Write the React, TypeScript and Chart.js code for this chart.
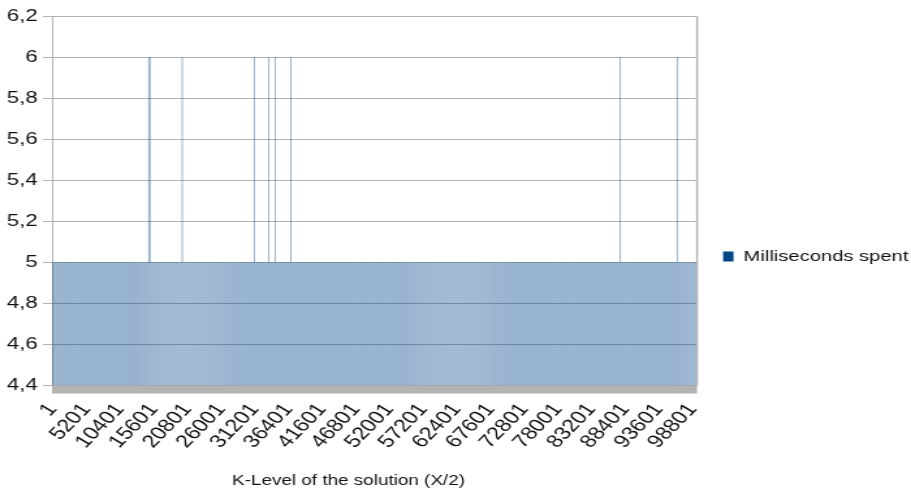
import React, { useEffect, useRef } from 'react';
import { Chart, registerables } from 'chart.js';

Chart.register(...registerables);

// Logical canvas size (the reference is horizontally stretched, so the canvas is drawn narrower and stretched by CSS)
const CANVAS_W = 700;
const CANVAS_H = 497;
const DISPLAY_W = 911;

// ---- data ----
const SERIES_LABEL = 'Milliseconds spent';
const X_TITLE = 'K-Level of the solution (X/2)';
const FIRST_LEVEL = 1;
const LEVEL_STEP = 200;

// milliseconds spent per K-level sample (one digit per category, groups of 10)
const MS_ROWS = [
  '5555555555 5555555555 5555555555 5555555555 5555555555',
  '5555555555 5555555555 5555665555 5555555555 5555555555',
  '6555555555 5555555555 5555555555 5555555555 5555555555',
  '5555556555 5555555655 5565555555 5555655555 5555555555',
  '5555555555 5555555555 5555555555 5555555555 5555555555',
  '5555555555 5555555555 5555555555 5555555555 5555555555',
  '5555555555 5555555555 5555555555 5555555555 5555555555',
  '5555555555 5555555555 5555555555 5555555555 5555555555',
  '5555555555 5555555555 5555555555 5555555565 5555555555',
  '5555555555 5555555555 5555555555 5565555555 55555555',
];
const MS_VALUES: number[] = MS_ROWS.join('').replace(/\s/g, '').split('').map(Number);
const K_LEVELS: string[] = MS_VALUES.map((_, i) => String(FIRST_LEVEL + i * LEVEL_STEP));

const X_TICK_LABELS = [
  '1', '5201', '10401', '15601', '20801', '26001', '31201', '36401', '41601', '46801',
  '52001', '57201', '62401', '67601', '72801', '78001', '83201', '88401', '93601', '98801',
];
const Y_MIN = 4.4;
const Y_MAX = 6.2;
const Y_STEP = 0.2;

const FONT = '"Liberation Sans", Arial, sans-serif';
const TEXT_COLOR = '#111111';
const SERIES_COLOR = '#004586';
const FRAME_COLOR = '#b3b3b3';

const decorPlugin = {
  id: 'decor',
  afterDraw(chart: any) {
    const { ctx, chartArea } = chart;
    const { left, right, top, bottom } = chartArea;
    ctx.save();
    // floor of the diagram
    ctx.fillStyle = FRAME_COLOR;
    ctx.fillRect(left, bottom, right - left, 8);
    // right frame line
    ctx.strokeStyle = FRAME_COLOR;
    ctx.lineWidth = 1.5;
    ctx.beginPath();
    ctx.moveTo(right, top);
    ctx.lineTo(right, bottom);
    ctx.stroke();
    // axis title, centred on the whole diagram incl. the y labels
    ctx.font = `14.5px ${FONT}`;
    ctx.fillStyle = TEXT_COLOR;
    ctx.textAlign = 'center';
    ctx.textBaseline = 'middle';
    ctx.fillText(X_TITLE, (chart.scales.y.left + right) / 2, chart.scales.x.bottom - 16);
    ctx.restore();
  },
};

export default function App() {
  const canvasRef = useRef<HTMLCanvasElement | null>(null);

  useEffect(() => {
    const canvas = canvasRef.current;
    if (!canvas) return;
    const chart = new Chart(canvas, {
      type: 'bar',
      data: {
        labels: K_LEVELS,
        datasets: [
          {
            label: SERIES_LABEL,
            data: MS_VALUES,
            backgroundColor: SERIES_COLOR,
            borderWidth: 0,
            barPercentage: 0.4,
            categoryPercentage: 1,
            inflateAmount: 0,
            clip: 0,
          } as any,
        ],
      },
      options: {
        animation: false,
        responsive: false,
        devicePixelRatio: 1,
        layout: { padding: { top: 16, right: -8, left: 0, bottom: 0 } },
        plugins: {
          legend: {
            position: 'right',
            align: 'center',
            labels: {
              boxWidth: 8,
              boxHeight: 10,
              padding: 20,
              color: TEXT_COLOR,
              font: { family: FONT, size: 15.5 },
            },
          },
          tooltip: { enabled: false },
        },
        scales: {
          x: {
            type: 'category',
            grid: { display: false, drawTicks: true, tickLength: 8 },
            border: { display: false },
            ticks: {
              autoSkip: false,
              minRotation: 52.4,
              maxRotation: 52.4,
              padding: 6,
              color: TEXT_COLOR,
              font: { family: FONT, size: 18 },
              callback: (_v: any, i: number) =>
                X_TICK_LABELS.includes(K_LEVELS[i]) ? K_LEVELS[i] : null,
            },
            afterFit: (s: any) => {
              s.height = 111.5;
            },
          },
          y: {
            min: Y_MIN,
            max: Y_MAX,
            z: 1,
            grid: { color: 'rgba(0,0,0,0.3)', tickLength: 7, lineWidth: 1 },
            border: { color: 'rgba(0,0,0,0.3)' },
            ticks: {
              stepSize: Y_STEP,
              padding: 4,
              color: TEXT_COLOR,
              font: { family: FONT, size: 17 },
              callback: (v: any) => String(Math.round(Number(v) * 10) / 10).replace('.', ','),
            },
            afterFit: (s: any) => {
              s.width = 40;
            },
          },
        },
      },
      plugins: [decorPlugin],
    } as any);
    return () => chart.destroy();
  }, []);

  return (
    <div style={{ position: 'absolute', left: 0, top: 0, width: DISPLAY_W, height: CANVAS_H, background: '#fff' }}>
      <canvas
        ref={canvasRef}
        width={CANVAS_W}
        height={CANVAS_H}
        style={{ width: `${DISPLAY_W}px`, height: `${CANVAS_H}px`, display: 'block' }}
      />
    </div>
  );
}
